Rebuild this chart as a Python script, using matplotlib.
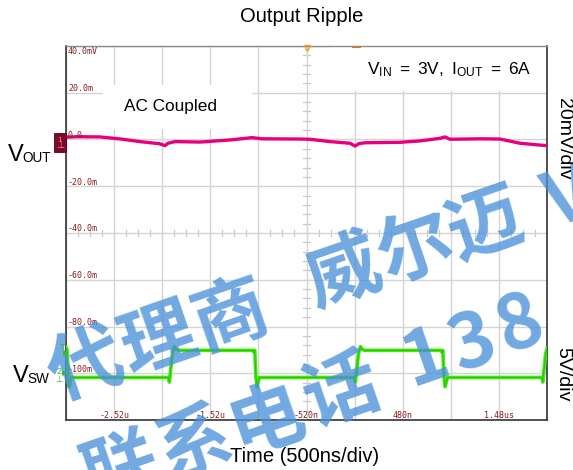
import numpy as np
import matplotlib
matplotlib.use("Agg")
import matplotlib.pyplot as plt
from matplotlib.patches import Rectangle
from matplotlib.transforms import offset_copy

plt.rcParams['font.family'] = ['Liberation Sans', 'Noto Sans CJK SC', 'DejaVu Sans']
plt.rcParams['mathtext.fontset'] = 'custom'
plt.rcParams['mathtext.rm'] = 'Liberation Sans'

# ---------------- data ----------------
# time axis (ns), 500 ns/div, 10 divisions
x_min, x_max = -3020, 1980
x_tick_vals = [-2520, -1520, -520, 480, 1480]
x_tick_labels = ["-2.52u", "-1.52u", "-520n", "480n", "1.48us"]

# channel-1 (VOUT) axis, mV, 20 mV/div, 8 divisions
y_min, y_max = -120, 40
y_tick_vals = [40, 20, 0, -20, -40, -60, -80, -100]
y_tick_labels = ["40.0mV", "20.0m", "0.0", "-20.0m", "-40.0m", "-60.0m", "-80.0m", "-100m"]

# VOUT ripple (AC coupled), mV
vout_t = [-3020, -2900, -2667, -2450, -2251, -2050, -1991, -1960, -1887, -1627, -1315,
          -1087, -983, -588, -484, -276, -68, -16, 30, 88, 244, 452, 660, 868, 920,
          972, 1284, 1491, 1699, 1907, 1980]
vout_mv = [1.0, 1.2, 1.1, 0.2, -0.9, -1.8, -2.6, -1.6, -0.9, -1.1, -0.2,
           0.8, 0.3, 0.2, 0.1, -0.9, -1.6, -2.8, -1.7, -1.4, -1.3, -1.2, -0.6, 0.5, 1.1,
           0.1, 0.3, 0.2, -1.6, -2.4, -2.6]

# VSW switch node (V), 5 V/div, ground marker on channel-1 scale
vsw_ground_mv = -102.2
vsw_mv_per_v = 4.0
vsw_t = [-3020, -3008, -2998, -2988, -2965, -1955, -1945, -1915, -1895, -1875, -1845,
         -1075, -1068, -1058, -1046, -1034, -1010, -20, -12, 20, 40, 60, 85,
         880, 888, 897, 909, 921, 945, 1928, 1936, 1965, 1980]
vsw_v = [3.3, 3.0, 0.2, -0.9, 0.1, 0.1, -0.4, 2.6, 3.4, 3.1, 3.0,
         3.0, 2.8, 3.0, 0.2, -0.9, 0.1, 0.1, -0.4, 2.6, 3.4, 3.1, 3.0,
         3.0, 2.8, 3.0, 0.2, -0.9, 0.1, 0.1, -0.4, 2.6, 3.2]

# ---------------- figure ----------------
W, H = 573, 470
fig = plt.figure(figsize=(W / 100, H / 100), dpi=100)
L, R, T, B = 66, 547, 46, 420
ax = fig.add_axes([L / W, 1 - B / H, (R - L) / W, (B - T) / H])
ax.set_xlim(x_min, x_max)
ax.set_ylim(y_min, y_max)
ax.set_xticks(np.arange(x_min, x_max + 1, 500))
ax.set_yticks(np.arange(y_min, y_max + 1, 20))
ax.tick_params(length=0, labelbottom=False, labelleft=False)
ax.grid(True, color='#d4d4d4', linewidth=1.0, zorder=0)
ax.set_axisbelow(True)
for side in ['left', 'bottom', 'right']:
    ax.spines[side].set_color('#333333')
    ax.spines[side].set_linewidth(1.2)
ax.spines['top'].set_color('#8a8a8a')
ax.spines['top'].set_linewidth(1.0)

# minor ticks on the center cross
xc, yc = -520, -40
for t in np.arange(x_min, x_max + 1, 125):
    ax.plot([t, t], [yc - 1.3, yc + 1.3], color='#c8c8c8', lw=0.9, zorder=0.5)
for v in np.arange(y_min, y_max + 1, 4):
    ax.plot([xc - 32, xc + 32], [v, v], color='#c8c8c8', lw=0.9, zorder=0.5)

# white label boxes covering the grid
def px2data(x, y):
    inv = ax.transData.inverted()
    return inv.transform((x, H - y))

fig.canvas.draw()
x0, y0 = px2data(103, 129)
x1, y1 = px2data(252, 85)
ax.add_patch(Rectangle((x0, y0), x1 - x0, y1 - y0, facecolor='white', edgecolor='none', zorder=0.8))
x0, y0 = px2data(332, 91)
x1, y1 = px2data(546, 47)
ax.add_patch(Rectangle((x0, y0), x1 - x0, y1 - y0, facecolor='white', edgecolor='none', zorder=0.8))

# traces
ax.plot(vout_t, vout_mv, color='#e6007e', lw=2.4, zorder=3, solid_joinstyle='round')
vsw_plot = [vsw_ground_mv + vsw_mv_per_v * v for v in vsw_v]
ax.plot(vsw_t, vsw_plot, color='#44ea10', lw=2.6, zorder=3, solid_joinstyle='round')
ax.plot(vsw_t, vsw_plot, color='#2bc400', lw=0.8, zorder=3.1)

# tick labels
lab_col = '#8a1c1c'
mono = dict(family='DejaVu Sans Mono', fontsize=6, color=lab_col, zorder=4)
for v, s in zip(y_tick_vals, y_tick_labels):
    if v == y_max:
        tr = offset_copy(ax.transData, fig=fig, x=2, y=-6, units='dots')
    else:
        tr = offset_copy(ax.transData, fig=fig, x=2, y=4, units='dots')
    ax.text(x_min, v, s, transform=tr, ha='left', va='center', **mono)
for t, s in zip(x_tick_vals, x_tick_labels):
    tr = offset_copy(ax.transData, fig=fig, x=0, y=5, units='dots')
    ax.text(t, y_min, s, transform=tr, ha='center', va='center', **mono)

# trigger markers at top
trt = offset_copy(ax.transData, fig=fig, x=0, y=-2, units='dots')
ax.plot([-520], [y_max], marker='v', markersize=5, mfc='none', mec='#f0a020',
        mew=1.0, transform=trt, clip_on=False, zorder=5)
ax.plot([-35, 35], [y_max, y_max], color='#c08040', lw=1.5, clip_on=False, zorder=5,
        transform=offset_copy(ax.transData, fig=fig, x=0, y=-1, units='dots'))

# ---------------- outside texts ----------------
def fx(x): return x / W
def fy(y): return 1 - y / H

fig.text(fx(302), fy(17), "Output Ripple", ha='center', va='center', fontsize=14.5)
fig.text(fx(305), fy(456), "Time (500ns/div)", ha='center', va='center', fontsize=14.5)
fig.text(fx(170), fy(106), "AC Coupled", ha='center', va='center', fontsize=12.4)
fig.text(fx(367), fy(70),
         r"$\mathrm{V_{IN}\; =\; 3V,\; I_{OUT}\; =\; 6A}$",
         ha='left', va='center', fontsize=12.4)

fig.text(fx(8), fy(161), "V", ha='left', va='baseline', fontsize=17)
fig.text(fx(22), fy(162), "OUT", ha='left', va='baseline', fontsize=9.8)
fig.text(fx(13), fy(382), "V", ha='left', va='baseline', fontsize=17)
fig.text(fx(27), fy(383), "SW", ha='left', va='baseline', fontsize=9.8)

fig.text(fx(563), fy(139), "20mV/div", ha='center', va='center', rotation=270, fontsize=14)
fig.text(fx(563), fy(374), "5V/div", ha='center', va='center', rotation=270, fontsize=14)

# channel markers
fig.add_artist(Rectangle((fx(54), fy(152)), 12 / W, 19 / H, transform=fig.transFigure,
                         facecolor='#7a0a26', edgecolor='#5a0018', lw=0.6))
fig.text(fx(60), fy(140), "1", ha='center', va='center', fontsize=6, color='#ff7ab0')
fig.text(fx(60), fy(147), "⊥", ha='center', va='center', fontsize=6, color='#ff7ab0')
gcol = '#2bbf2b'
fig.text(fx(62), fy(347), "T", ha='center', va='center', fontsize=6.5, color=gcol)
fig.text(fx(66), fy(353), "▶", ha='center', va='center', fontsize=5, color=gcol, family='DejaVu Sans')
fig.text(fx(59), fy(372), "2", ha='center', va='center', fontsize=6.5, color=gcol)
fig.text(fx(65), fy(373), "▶", ha='center', va='center', fontsize=5, color=gcol, family='DejaVu Sans')
fig.text(fx(59), fy(380), "⊥", ha='center', va='center', fontsize=6, color=gcol, family='DejaVu Sans')

# ---------------- watermark ----------------
ang = np.deg2rad(19)
u = np.array([np.cos(ang), -np.sin(ang)])
n = np.array([np.sin(ang), np.cos(ang)])
origin = np.array([86, 368])
wm1 = [("代", 0, -2), ("理", 77, -2), ("商", 154, -2), ("威", 274, -5),
       ("尔", 350, -5), ("迈", 424, -3), ("V", 512, -2)]
wm2 = [("联", 0, 108), ("系", 77, 108), ("电", 154, 108), ("话", 234, 106),
       ("1", 324, 101), ("3", 373, 103), ("8", 424, 101)]
for ch, a, b in wm1 + wm2:
    p = origin + a * u + b * n
    fig.text(fx(p[0]), fy(p[1]), ch, ha='center', va='center', rotation=19,
             rotation_mode='anchor', fontsize=54, color='#4a90d9', alpha=0.78,
             fontweight='bold', family=['Noto Sans CJK SC', 'DejaVu Sans'], zorder=2)

fig.savefig("out.png", dpi=100)
